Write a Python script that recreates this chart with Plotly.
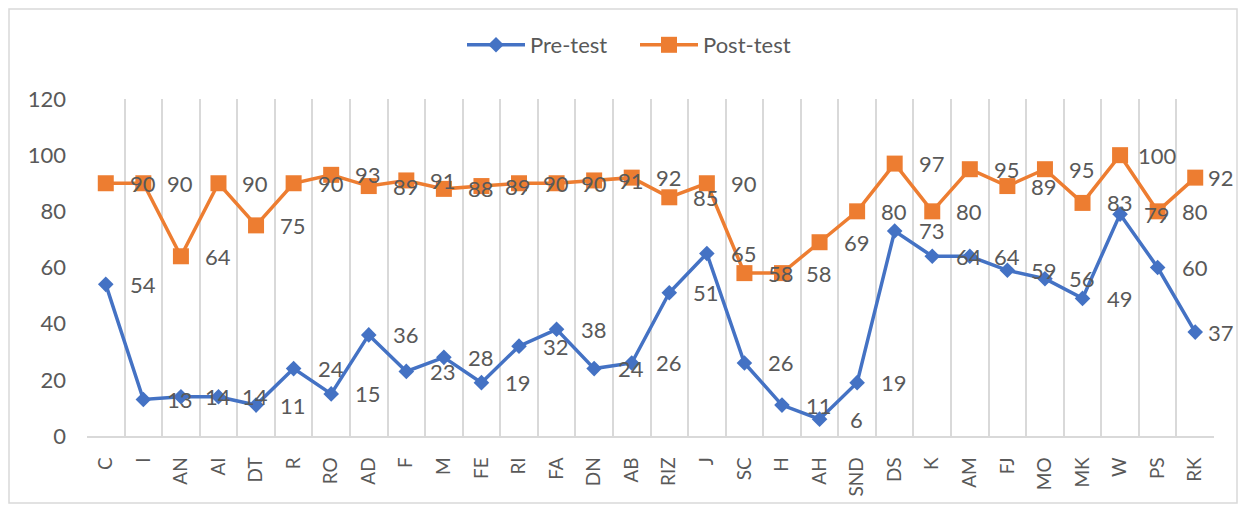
import plotly.graph_objects as go

categories = ["C", "I", "AN", "AI", "DT", "R", "RO", "AD", "F", "M", "FE", "RI", "FA", "DN",
              "AB", "RIZ", "J", "SC", "H", "AH", "SND", "DS", "K", "AM", "FJ", "MO", "MK",
              "W", "PS", "RK"]
pre_test = [54, 13, 14, 14, 11, 24, 15, 36, 23, 28, 19, 32, 38, 24, 26, 51, 65, 26, 11, 6,
            19, 73, 64, 64, 59, 56, 49, 79, 60, 37]
post_test = [90, 90, 64, 90, 75, 90, 93, 89, 91, 88, 89, 90, 90, 91, 92, 85, 90, 58, 58, 69,
             80, 97, 80, 95, 89, 95, 83, 100, 80, 92]
y_ticks = [0, 20, 40, 60, 80, 100, 120]

BLUE = "#4472C4"
ORANGE = "#ED7D31"
TEXT = "#595959"
GRID = "#D9D9D9"
FONT = "Lato"

fig = go.Figure()
fig.add_trace(go.Scatter(
    x=categories, y=pre_test, name="Pre-test", mode="lines+markers",
    line=dict(color=BLUE, width=3.5),
    marker=dict(symbol="diamond", size=12, color=BLUE),
    cliponaxis=False,
))
fig.add_trace(go.Scatter(
    x=categories, y=post_test, name="Post-test", mode="lines+markers",
    line=dict(color=ORANGE, width=3.5),
    marker=dict(symbol="square", size=16, color=ORANGE),
    cliponaxis=False,
))

annotations = []
n = len(categories)
for series in (pre_test, post_test):
    for i, (c, v) in enumerate(zip(categories, series)):
        annotations.append(dict(
            x=c, y=v, xref="x", yref="y", text=str(v), showarrow=False,
            xshift=26 if i == n - 1 else 37, xanchor="center", yanchor="middle",
            font=dict(family=FONT, size=22, color=TEXT),
        ))

# The page body has an 8px default margin: the figure starts at page (8, 8)
# and is sized to fit the body's content box of the 1247x512 window.
OFF = 8
W, H = 1247 - 2 * OFF, 512 - 2 * OFF
L, T = 87 - OFF, 99 - OFF
R = (OFF + W) - 1214
B = (OFF + H) - 436
pw, ph = W - L - R, H - T - B


def px_x(p):
    return (p - OFF - L) / pw


def px_y(p):
    return (H - B - (p - OFF)) / ph


fig.update_layout(
    width=W, height=H,
    margin=dict(l=L, r=R, t=T, b=B, autoexpand=False),
    paper_bgcolor="white", plot_bgcolor="white",
    font=dict(family=FONT, color=TEXT),
    showlegend=True,
    legend=dict(orientation="h", x=px_x(462), xanchor="left", y=px_y(45), yanchor="middle",
                font=dict(family=FONT, size=22, color=TEXT), itemwidth=58,
                entrywidth=100, entrywidthmode="pixels",
                bgcolor="rgba(0,0,0,0)"),
    annotations=annotations,
    shapes=[dict(type="rect", xref="paper", yref="paper",
                 x0=px_x(OFF + 1), x1=px_x(OFF + W - 2), y0=px_y(OFF + H - 1), y1=px_y(OFF + 1),
                 line=dict(color=GRID, width=1.5), fillcolor="rgba(0,0,0,0)", layer="below")],
    xaxis=dict(
        type="category", tickson="boundaries", showgrid=True, gridcolor=GRID, gridwidth=1.5,
        showline=True, linecolor=GRID, linewidth=1.5, ticks="", tickangle=-90,
        tickfont=dict(family=FONT, size=19, color=TEXT), ticklabelstandoff=12,
        zeroline=False, range=[-0.5, n - 0.5], automargin=False,
    ),
    yaxis=dict(
        range=[0, 120], tickvals=y_ticks, showgrid=False, zeroline=False, showline=False,
        ticks="", tickfont=dict(family=FONT, size=22, color=TEXT), ticklabelstandoff=20,
        automargin=False,
    ),
)

fig.write_html("out.html")
